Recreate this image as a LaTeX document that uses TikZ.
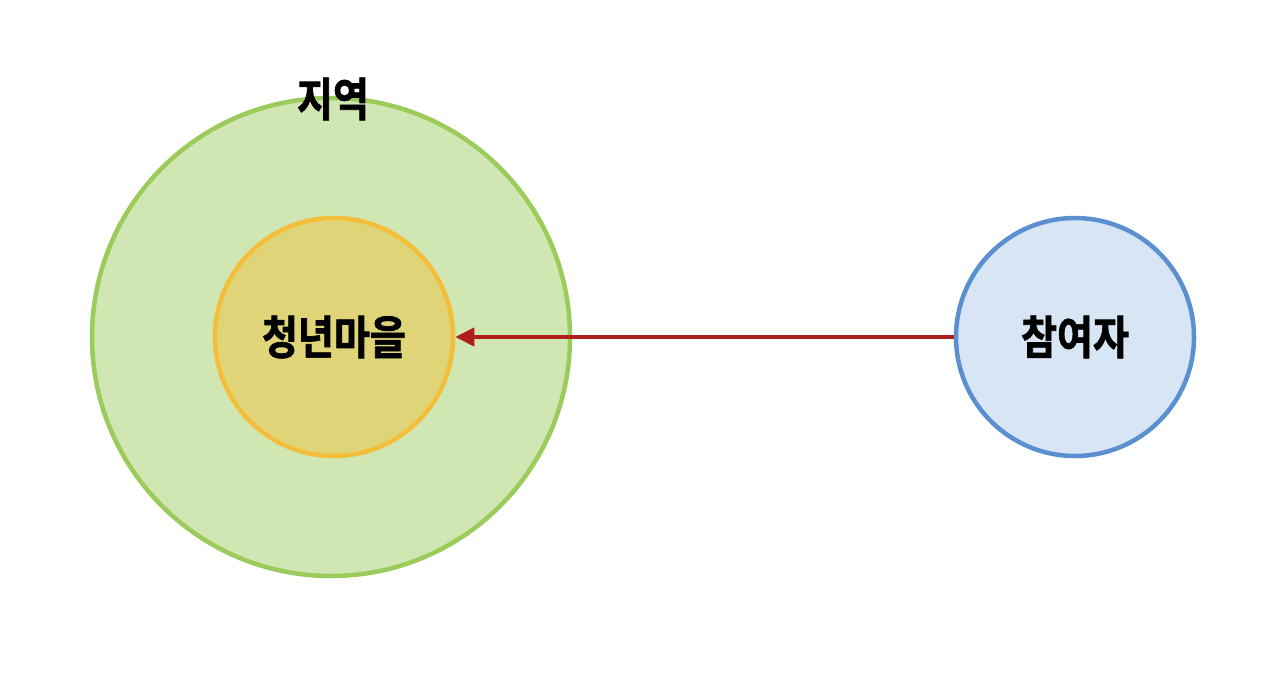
\documentclass[tikz,border=0pt]{standalone}
\usepackage{fontspec}
\newfontfamily\kr[FakeStretch=0.85,FakeBold=1.5]{Noto Sans CJK KR Bold}
\usetikzlibrary{arrows.meta}
\definecolor{bigfill}{HTML}{D1E7B3}
\definecolor{bigline}{HTML}{9BCB5B}
\definecolor{infill}{HTML}{E0D478}
\definecolor{inline}{HTML}{F4BE3A}
\definecolor{rfill}{HTML}{D8E5F4}
\definecolor{rline}{HTML}{5B90D0}
\definecolor{arr}{HTML}{B0201A}
\begin{document}
\begin{tikzpicture}[x=1pt,y=-1pt,
  circ/.style={circle,line width=4.5pt,inner sep=0pt},
  lbl/.style={font=\kr\fontsize{46}{46}\selectfont,text=black}]
\useasboundingbox (0,0) rectangle (1280,681);
\node[circ,draw=bigline,fill=bigfill,minimum size=478pt] (region) at (331,337) {};
\node[circ,draw=inline,fill=infill,minimum size=238pt] (village) at (334,337) {};
\node[lbl] at (village.center) {청년마을};
\node[circ,draw=rline,fill=rfill,minimum size=238pt] (part) at (1075,337) {};
\node[lbl] at (part.center) {참여자};
\node[lbl] (rlabel) at (333,99) {지역};
\draw[arr,line width=4pt,-{Triangle[length=19pt,width=18pt]}] (part.west) -- (village.east);
\end{tikzpicture}
\end{document}
